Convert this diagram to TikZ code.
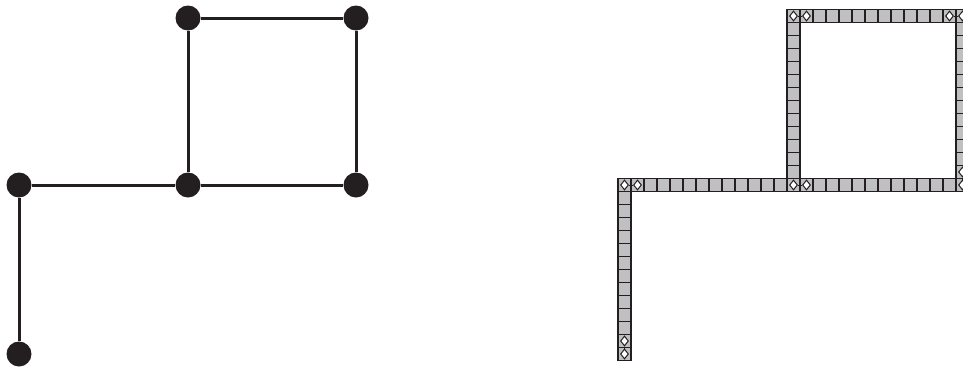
\documentclass[tikz,border=0pt]{standalone}
\usetikzlibrary{shapes.geometric}
\definecolor{cellgray}{RGB}{192,192,194}
\definecolor{ink}{RGB}{35,31,32}
\begin{document}
\begin{tikzpicture}[x=1pt,y=-1pt,
  vtx/.style={circle,fill=ink,inner sep=0pt,minimum size=25pt},
  gedge/.style={line width=3pt,draw=ink},
  cellbox/.style={fill=cellgray,draw=ink,line width=1.5pt},
  dmd/.style={diamond,draw=ink,fill=white,line width=1pt,inner sep=0pt,minimum width=8pt,minimum height=10pt},
  dlink/.style={draw=ink,line width=1pt}]
\useasboundingbox (0,0) rectangle (963,367);
\clip (0,0) rectangle (963,367);
% left graph
\node[vtx] (a) at (19,185) {};
\node[vtx] (b) at (188,185) {};
\node[vtx] (c) at (356,185) {};
\node[vtx] (d) at (188,18) {};
\node[vtx] (e) at (356,18) {};
\node[vtx] (f) at (19,354) {};
\draw[gedge] (f) -- (a) -- (b) -- (c) -- (e) -- (d) -- (b);
% right: chain of cells
\def\ox{618}\def\oy{178.5}\def\s{13}
\foreach \i in {0,...,26} {\filldraw[cellbox] ({\ox+\s*\i},{\oy}) rectangle ++(\s,\s);}
\foreach \j in {1,...,13} {\filldraw[cellbox] ({\ox},{\oy+\s*\j}) rectangle ++(\s,\s);}
\foreach \j in {-13,...,-1} {
  \filldraw[cellbox] ({\ox+\s*13},{\oy+\s*\j}) rectangle ++(\s,\s);
  \filldraw[cellbox] ({\ox+\s*26},{\oy+\s*\j}) rectangle ++(\s,\s);}
\foreach \i in {14,...,25} {\filldraw[cellbox] ({\ox+\s*\i},{\oy-\s*13}) rectangle ++(\s,\s);}
% diamonds marking the vertices
\foreach \n/\i/\j in {a1/0/0, a2/1/0, b1/13/0, b2/14/0, d1/13/-13, d2/14/-13,
    e1/25/-13, e2/26/-13, c1/26/-1, c2/26/0, f1/0/12, f2/0/13} {
  \node[dmd] (q\n) at ({\ox+\s*(\i+0.5)},{\oy+\s*(\j+0.5)}) {};}
\foreach \p/\q in {a1/a2, b1/b2, d1/d2, e1/e2, c1/c2, f1/f2} {\draw[dlink] (q\p) -- (q\q);}
\end{tikzpicture}
\end{document}
